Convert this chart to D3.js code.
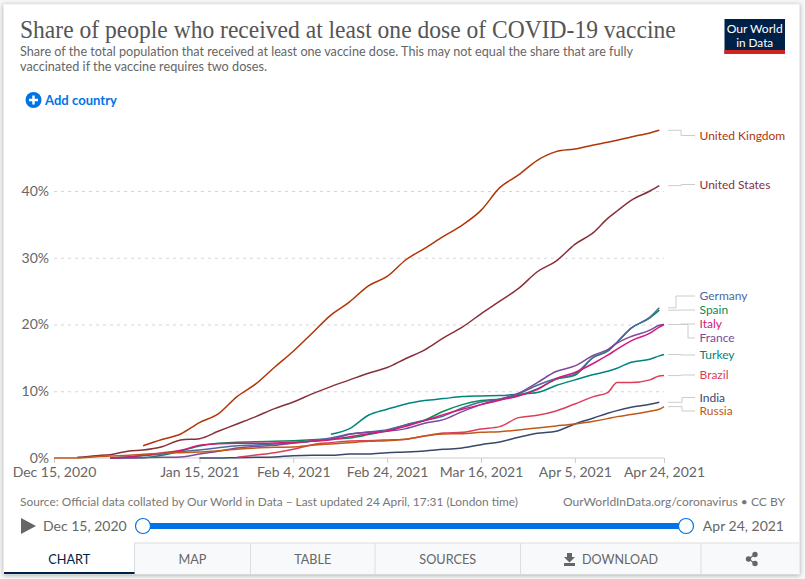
<!DOCTYPE html>
<html>
<head>
<meta charset="utf-8">
<script src="https://cdn.jsdelivr.net/npm/d3@7"></script>
<style>
  html, body { margin: 0; padding: 0; background: #f7f7f7; }
  svg { display: block; font-family: Lato, sans-serif; }
  .domain { display: none; }
</style>
</head>
<body>
<div id="container"></div>
<script>
// days since Dec 15, 2020
const days = [0,5,9,12,16,19,23,27,31,35,39,43,47,51,55,59,63,67,71,75,79,83,87,91,95,99,103,107,111,115,118,120,123,127,129,130];

const unitedKingdom = [null,null,null,null,null,1.84,2.77,3.6,5.3,6.6,9.2,11.1,13.6,16.0,18.7,21.4,23.4,25.8,27.2,29.7,31.4,33.2,34.9,37.1,40.5,42.4,44.6,45.9,46.3,46.9,47.3,47.6,48.1,48.7,49.1,null];
const unitedStates = [null,0.1,0.35,0.5,1.05,1.2,1.7,2.7,2.9,4.0,5.1,6.2,7.4,8.4,9.6,10.7,11.7,12.7,13.55,14.9,16.2,18.0,19.6,21.6,23.5,25.4,27.9,29.5,32.0,33.8,35.9,37.0,38.6,40.0,40.8,null];
const germany = [null,null,null,0,0.2,0.35,0.6,0.95,1.2,1.55,1.85,1.95,2.1,2.25,2.55,3.0,3.6,3.9,4.25,4.95,5.6,6.3,7.5,8.4,8.75,9.65,10.9,11.9,12.6,15.1,16.1,17.35,19.45,21.1,22.5,null];
const spain = [null,null,null,0,0.03,0.05,0.4,1.05,1.8,2.2,2.35,2.45,2.5,2.6,2.75,2.85,3.0,3.5,4.1,5.0,5.7,7.0,8.0,8.6,8.85,9.4,10.35,11.8,12.4,15.1,16.0,17.35,19.45,21.0,22.15,null];
const italy = [null,null,null,0,0.15,0.4,0.75,1.15,1.9,2.15,2.2,2.2,2.25,2.35,2.5,2.75,3.2,3.65,4.05,4.75,5.6,6.5,7.3,8.0,8.65,9.3,10.25,11.9,12.8,14.2,15.4,16.3,17.55,18.7,19.6,20.0];
const france = [null,null,null,0,0,0.05,0.1,0.15,0.6,1.0,1.5,1.75,1.9,2.25,2.55,2.8,3.55,3.85,4.0,4.4,5.2,5.75,6.95,8.0,8.8,9.7,11.3,12.95,13.8,15.4,16.25,17.2,18.2,19.15,19.9,20.0];
const turkey = [null,null,null,null,null,null,null,null,null,null,null,null,null,null,null,3.55,4.4,6.4,7.3,8.1,8.6,8.9,9.2,9.3,9.35,9.55,9.8,10.85,11.7,12.5,13.0,13.45,14.35,14.8,15.3,15.5];
const brazil = [null,null,null,null,null,null,null,null,null,null,0.1,0.45,0.8,1.3,2.0,2.3,2.55,2.6,2.7,2.8,3.3,3.75,3.85,4.35,4.7,6.05,6.4,7.05,8.1,9.2,9.8,11.3,11.3,11.7,12.3,12.35];
const india = [null,null,null,null,null,null,null,null,0,0,0.05,0.1,0.15,0.35,0.4,0.4,0.6,0.6,0.8,0.9,1.05,1.3,1.5,2.0,2.4,3.1,3.7,4.0,5.1,6.0,6.7,7.1,7.6,8.05,8.35,null];
const russia = [0,0,0.2,0.3,0.4,0.55,0.7,0.8,0.9,1.1,1.3,1.5,1.6,1.65,1.9,2.1,2.3,2.5,2.6,2.8,3.3,3.6,3.65,3.85,3.95,4.2,4.5,4.8,5.1,5.5,5.9,6.2,6.5,7.0,7.3,7.7];

const xTicks = ["2020-12-15","2021-01-15","2021-02-04","2021-02-24","2021-03-16","2021-04-05","2021-04-24"];
const yTicks = [0,10,20,30,40];

const tabNames = ["CHART","MAP","TABLE","SOURCES","DOWNLOAD"];

const parse = d3.utcParse("%Y-%m-%d");
const start = parse(xTicks[0]);
const end = parse(xTicks[xTicks.length - 1]);

// draw order, last one on top
const series = [
  {name: "India", values: india, color: "#38486a", labelY: 397.5, bendX: 682},
  {name: "Turkey", values: turkey, color: "#00847e", labelY: 355},
  {name: "Brazil", values: brazil, color: "#dc3e5a", labelY: 375},
  {name: "Spain", values: spain, color: "#0a8a55", labelY: 310},
  {name: "Germany", values: germany, color: "#4c6a9c", labelY: 296, bendX: 676},
  {name: "France", values: france, color: "#7a4a9e", labelY: 338, bendX: 688},
  {name: "Italy", values: italy, color: "#d5187a", labelY: 324},
  {name: "United States", values: unitedStates, color: "#883039", labelY: 184.5},
  {name: "United Kingdom", values: unitedKingdom, color: "#b13507", labelY: 135.5, bendX: 681},
  {name: "Russia", values: russia, color: "#c05917", labelY: 411, bendX: 682}
];

const svg = d3.select("#container").append("svg")
  .attr("width", 805)
  .attr("height", 579);

svg.append("rect").attr("x", 3.5).attr("y", 4).attr("width", 796).attr("height", 570)
  .attr("fill", "#fff").attr("stroke", "#ececec")
  .style("filter", "drop-shadow(0 1px 2px rgba(0,0,0,.3))");

// header, the title font is wider than the original so squeeze it to the same width
const title = svg.append("text")
  .attr("font-family", "'Liberation Serif', serif").attr("font-size", 26).attr("fill", "#555")
  .text("Share of people who received at least one dose of COVID-19 vaccine");
title.attr("transform", `translate(20,38) scale(${656 / title.node().getComputedTextLength()},1)`);

svg.append("text").attr("x", 20).attr("y", 56).attr("font-size", 13).attr("fill", "#666")
  .attr("textLength", 613).attr("lengthAdjust", "spacingAndGlyphs")
  .text("Share of the total population that received at least one vaccine dose. This may not equal the share that are fully");
svg.append("text").attr("x", 20).attr("y", 71).attr("font-size", 13).attr("fill", "#666")
  .attr("textLength", 247).attr("lengthAdjust", "spacingAndGlyphs")
  .text("vaccinated if the vaccine requires two doses.");

// logo
svg.append("rect").attr("x", 724.5).attr("y", 19).attr("width", 60.5).attr("height", 35).attr("fill", "#002147");
svg.append("rect").attr("x", 724.5).attr("y", 50).attr("width", 60.5).attr("height", 4).attr("fill", "#ce261e");
svg.selectAll(".logo").data([["Our World", 56], ["in Data", 37]]).enter().append("text")
  .attr("x", 754.7).attr("y", (d, i) => 33 + i * 13.5)
  .attr("text-anchor", "middle").attr("font-size", 11).attr("fill", "#fff")
  .attr("textLength", d => d[1]).attr("lengthAdjust", "spacingAndGlyphs")
  .text(d => d[0]);

// add country
svg.append("circle").attr("cx", 33.5).attr("cy", 100).attr("r", 8).attr("fill", "#0073e6");
svg.append("path").attr("d", "M33.5 95.5v9M29 100h9").attr("stroke", "#fff").attr("stroke-width", 2.4);
svg.append("text").attr("x", 45).attr("y", 105).attr("font-size", 13).attr("font-weight", 700)
  .attr("fill", "#0073e6").attr("textLength", 72).attr("lengthAdjust", "spacingAndGlyphs").text("Add country");

// scales and axes
const x = d3.scaleUtc().domain([start, end]).range([54, 664]);
const y = d3.scaleLinear().domain([0, 40]).range([458, 191]);
const dayToDate = d => d3.utcDay.offset(start, d);

const yAxis = svg.append("g").attr("transform", "translate(54,0)")
  .call(d3.axisLeft(y).tickValues(yTicks).tickSize(-610).tickPadding(5).tickFormat(d => d + "%"));
yAxis.selectAll("line").attr("stroke", "#d6d6d6").attr("stroke-dasharray", "3,4")
  .filter(d => d === 0).remove();
yAxis.selectAll("text").attr("font-family", "Lato, sans-serif").attr("font-size", 14).attr("fill", "#666");

const xAxis = svg.append("g").attr("transform", "translate(0,458)")
  .call(d3.axisBottom(x).tickValues(xTicks.map(parse)).tickSize(5).tickPadding(4.5).tickFormat(d3.utcFormat("%b %-d, %Y")));
xAxis.selectAll("line").attr("stroke", "#ccc");
xAxis.selectAll("text").attr("font-family", "Lato, sans-serif").attr("font-size", 14).attr("fill", "#666");

svg.append("line").attr("x1", x(start)).attr("x2", x(end)).attr("y1", y(0)).attr("y2", y(0)).attr("stroke", "#ccc");

// country lines
const line = d3.line()
  .defined(d => d[1] !== null)
  .curve(d3.curveMonotoneX)
  .x(d => x(dayToDate(d[0])))
  .y(d => y(d[1]));

svg.selectAll(".country").data(series).enter().append("path")
  .attr("class", "country")
  .attr("fill", "none")
  .attr("stroke", d => d.color)
  .attr("stroke-width", 1.5)
  .attr("stroke-linejoin", "round")
  .attr("d", d => line(days.map((day, i) => [day, d.values[i]])));

// connectors and labels
const lastValue = d => d.values.filter(v => v !== null).pop();

svg.selectAll(".connector").data(series).enter().append("path")
  .attr("class", "connector")
  .attr("fill", "none")
  .attr("stroke", "#ccc")
  .attr("d", d => {
    const y0 = y(lastValue(d));
    const bend = d.bendX || 681;
    return `M668 ${y0}H${bend}V${d.labelY}H695`;
  });

svg.selectAll(".label").data(series).enter().append("text")
  .attr("class", "label")
  .attr("x", 699.5)
  .attr("y", d => d.labelY + 4.3)
  .attr("font-size", 12)
  .attr("fill", d => d.color)
  .text(d => d.name);

// footer
svg.append("text").attr("x", 20).attr("y", 506).attr("font-size", 11.5).attr("fill", "#777")
  .attr("textLength", 498).attr("lengthAdjust", "spacingAndGlyphs")
  .text("Source: Official data collated by Our World in Data – Last updated 24 April, 17:31 (London time)");
svg.append("text").attr("x", 563).attr("y", 506).attr("font-size", 11.5).attr("fill", "#777")
  .attr("textLength", 222).attr("lengthAdjust", "spacingAndGlyphs")
  .text("OurWorldInData.org/coronavirus • CC BY");

// timeline
const fmt = d3.utcFormat("%b %-d, %Y");
svg.append("path").attr("d", "M21 518L36 526L21 534Z").attr("fill", "#666");
svg.append("text").attr("x", 43).attr("y", 531).attr("font-size", 14).attr("fill", "#666").text(fmt(start));
svg.append("text").attr("x", 784).attr("y", 531).attr("text-anchor", "end").attr("font-size", 14).attr("fill", "#666").text(fmt(end));
svg.append("rect").attr("x", 143).attr("y", 523).attr("width", 543).attr("height", 6).attr("fill", "#0073e6");
svg.selectAll(".handle").data([143, 686]).enter().append("circle")
  .attr("cx", d => d).attr("cy", 526).attr("r", 7.5)
  .attr("fill", "#fff").attr("stroke", "#0073e6").attr("stroke-width", 1.2);

// tabs
const tabEdges = [4, 134.5, 250.5, 375, 520.5, 701, 799];
const tabWidths = [42, 28, 37, 57, 76];
const tabs = svg.append("g");
tabs.append("rect").attr("x", tabEdges[1]).attr("y", 543).attr("width", tabEdges[6] - tabEdges[1]).attr("height", 31)
  .attr("fill", "#f8f9fb");
tabs.selectAll("line").data(tabEdges.slice(1, 6)).enter().append("line")
  .attr("x1", d => d).attr("x2", d => d).attr("y1", 543).attr("y2", 574).attr("stroke", "#ddd");
tabs.append("line").attr("x1", tabEdges[1]).attr("x2", 799).attr("y1", 543).attr("y2", 543).attr("stroke", "#ddd");
tabs.append("line").attr("x1", 4).attr("x2", tabEdges[1]).attr("y1", 573).attr("y2", 573)
  .attr("stroke", "#002147").attr("stroke-width", 2);
tabs.selectAll("text").data(tabNames).enter().append("text")
  .attr("x", (d, i) => i === 4 ? 620 : (tabEdges[i] + tabEdges[i + 1]) / 2)
  .attr("y", 564)
  .attr("text-anchor", "middle")
  .attr("font-size", 14)
  .attr("fill", (d, i) => i === 0 ? "#002147" : "#666")
  .attr("textLength", (d, i) => tabWidths[i])
  .attr("lengthAdjust", "spacingAndGlyphs")
  .text(d => d);
// download icon
tabs.append("path").attr("d", "M567 553h5v4h3l-5.5 5.5L564 557h3zM564 563h11v3h-11z").attr("fill", "#666");
// share icon
tabs.append("g").attr("fill", "#666").selectAll("circle").data([[755, 554.5], [748.5, 559], [755, 563.5]]).enter()
  .append("circle").attr("cx", d => d[0]).attr("cy", d => d[1]).attr("r", 2.7);
tabs.append("path").attr("d", "M755 554.5L748.5 559L755 563.5").attr("fill", "none").attr("stroke", "#666").attr("stroke-width", 1.2);
</script>
</body>
</html>
